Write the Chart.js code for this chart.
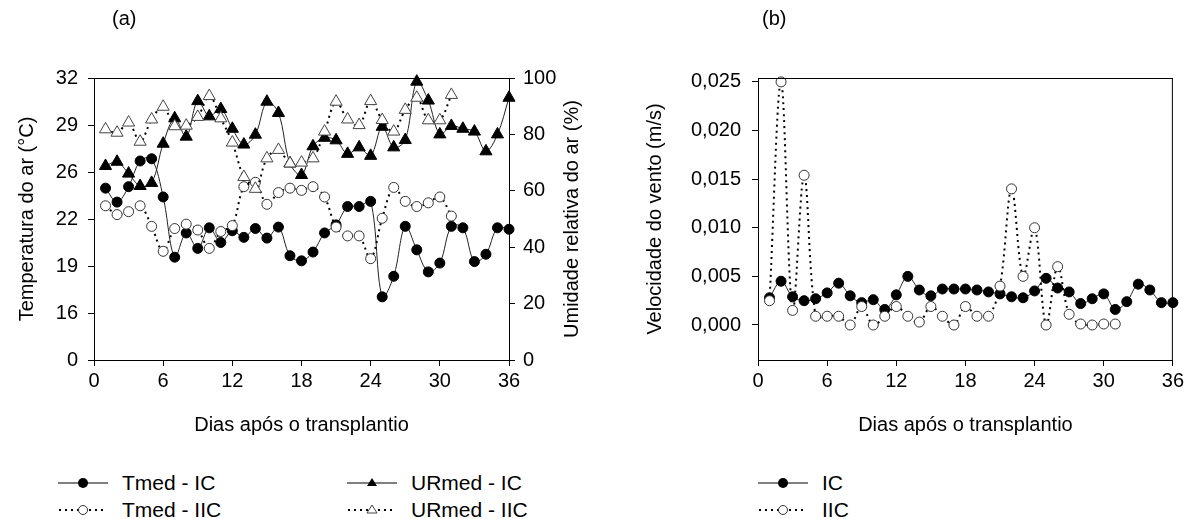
<!DOCTYPE html>
<html><head><meta charset="utf-8">
<script src="https://cdn.jsdelivr.net/npm/chart.js@4/dist/chart.umd.min.js"></script>
<style>
html,body{margin:0;padding:0;background:#fff;width:1187px;height:519px;overflow:hidden;font-family:"Liberation Sans",Arial,sans-serif;color:#000}
#wa{position:absolute;left:0;top:0;width:600px;height:460px}
#wb{position:absolute;left:600px;top:0;width:587px;height:460px}
.plabel{position:absolute;font-size:20px;line-height:20px}
.leg{position:absolute;font-size:21px;line-height:24px;display:flex;align-items:center;white-space:nowrap}
.leg svg{margin-right:14px}
</style></head>
<body>
<div id="wa"><canvas id="ca"></canvas></div>
<div id="wb"><canvas id="cb"></canvas></div>
<div class="plabel" style="left:112px;top:8px">(a)</div>
<div class="plabel" style="left:762px;top:8px">(b)</div>
<div id="legends"></div>
<script>
// ---------- data ----------
const daysIC  = [1,2,3,4,5,6,7,8,9,10,11,12,13,14,15,16,17,18,19,20,21,22,23,24,25,26,27,28,29,30,31,32,33,34,35,36];
const daysIIC = [1,2,3,4,5,6,7,8,9,10,11,12,13,14,15,16,17,18,19,20,21,22,23,24,25,26,27,28,29,30,31];

const tmedIC  = [24.5,23.55,24.6,26.35,26.5,23.9,19.8,21.45,20.4,21.8,20.8,21.6,21.15,21.75,21.1,21.85,19.9,19.55,20.15,21.45,22.0,23.25,23.25,23.6,17.1,18.5,21.9,20.3,18.8,19.4,21.9,21.8,19.5,20.0,21.8,21.7];
const tmedIIC = [23.3,22.7,22.9,23.3,21.9,20.2,21.75,22.05,21.65,20.4,21.55,21.95,24.6,24.9,23.4,24.2,24.5,24.35,24.6,23.9,21.85,21.25,21.25,19.7,22.45,24.55,23.6,23.25,23.5,23.9,22.6];
const urIC    = [68.8,70.3,66.1,61.7,62.8,76.7,85.7,79.2,91.8,86.4,89.0,82.0,76.4,79.9,91.6,87.6,69.7,65.6,75.8,78.8,77.9,73.1,75.4,72.4,82.7,75.4,78.0,98.7,92.0,80.0,83.0,82.0,81.0,74.0,80.0,93.0];
const urIIC   = [81.8,80.6,84.2,77.4,85.3,89.8,82.9,83.1,86.2,93.6,85.7,77.1,64.9,60.7,71.5,74.5,69.7,70.0,71.5,81.0,91.6,85.3,83.3,91.8,85.1,81.0,88.7,93.0,85.0,85.0,94.0];

const windIC  = [0.0028,0.0045,0.0029,0.0025,0.0027,0.0033,0.0043,0.0030,0.0023,0.0026,0.0016,0.0031,0.0050,0.0036,0.0030,0.0037,0.0037,0.0037,0.0036,0.0034,0.0032,0.0029,0.0028,0.0035,0.0048,0.0038,0.0034,0.0022,0.0027,0.0032,0.0016,0.0024,0.0042,0.0036,0.0023,0.0023];
const windIIC = [0.0025,0.0250,0.0015,0.0154,0.0009,0.0009,0.0009,0.0000,0.0019,0.0000,0.0009,0.0019,0.0009,0.0003,0.0019,0.0009,0.0000,0.0019,0.0009,0.0009,0.0040,0.0140,0.0050,0.0100,0.0000,0.0060,0.0011,0.0001,0.0000,0.0001,0.0001];

const xTickValues     = [0,6,12,18,24,30,36];
const tempTickValues  = [12.8,16,19.2,22.4,25.6,28.8,32];
const tempTickLabels  = ['0','16','19','22','26','29','32'];
const humTickValues   = [0,20,40,60,80,100];
const windTickValues  = [0,0.005,0.010,0.015,0.020,0.025];
const windTickLabels  = ['0,000','0,005','0,010','0,015','0,020','0,025'];

const seriesNamesA = ['Tmed - IC','Tmed - IIC','URmed - IC','URmed - IIC'];
const seriesNamesB = ['IC','IIC'];
const xTitle = 'Dias após o transplantio';

// ---------- helpers ----------
const FONT = {family:'"Liberation Sans", Arial, sans-serif', size:20};
const pairs = (xs, ys) => ys.map((y,i)=>({x:xs[i], y}));
const fixedTicks = (vals) => (axis) => { axis.ticks = vals.map(v=>({value:v})); };

function xScale(){
  return {type:'linear', min:0, max:36,
    afterBuildTicks: fixedTicks(xTickValues),
    afterFit: s=>{ s.height = 100; },
    ticks:{font:FONT, color:'#000', padding:3, maxRotation:0},
    grid:{drawOnChartArea:false, drawTicks:true, tickLength:6, color:'#000', tickWidth:1},
    border:{color:'#000', width:1},
    title:{display:true, text:xTitle, font:FONT, color:'#000', padding:{top:0,bottom:23}}};
}

const frame = {
  id:'frame',
  afterDraw(chart, args, opts){
    const {ctx, chartArea:a} = chart;
    ctx.save(); ctx.strokeStyle='#000'; ctx.lineWidth=1; ctx.beginPath();
    ctx.moveTo(a.left, a.top+0.5); ctx.lineTo(a.right, a.top+0.5);
    if (opts.right){ ctx.moveTo(a.right-0.5, a.top); ctx.lineTo(a.right-0.5, a.bottom); }
    ctx.stroke();
    if (opts.rightTitle){
      ctx.fillStyle='#000'; ctx.font = '20px "Liberation Sans", Arial, sans-serif';
      ctx.textAlign='center'; ctx.textBaseline='middle';
      ctx.translate(opts.rightTitleX, (a.top+a.bottom)/2); ctx.rotate(-Math.PI/2);
      ctx.fillText(opts.rightTitle, 0, 0);
    }
    ctx.restore();
  }
};

const filledCircle = {pointStyle:'circle', pointRadius:5, pointBackgroundColor:'#000', pointBorderColor:'#000', pointBorderWidth:1, borderColor:'#222', borderWidth:1, tension:0.35, showLine:true, clip:10};
const openCircle   = {pointStyle:'circle', pointRadius:5, pointBackgroundColor:'#fff', pointBorderColor:'#333', pointBorderWidth:1, borderColor:'#000', borderWidth:2, borderDash:[2,4], tension:0.35, showLine:true, clip:10};
const filledTri    = {pointStyle:'triangle', pointRadius:7, pointBackgroundColor:'#000', pointBorderColor:'#000', pointBorderWidth:1, borderColor:'#222', borderWidth:1, tension:0.35, showLine:true, clip:10};
const openTri      = {pointStyle:'triangle', pointRadius:7, pointBackgroundColor:'#fff', pointBorderColor:'#444', pointBorderWidth:1, borderColor:'#000', borderWidth:2, borderDash:[2,4], tension:0.35, showLine:true, clip:10};

// ---------- chart (a) ----------
new Chart(document.getElementById('ca'), {
  type:'scatter',
  data:{datasets:[
    Object.assign({label:seriesNamesA[0], data:pairs(daysIC, tmedIC),  yAxisID:'y',  order:3}, filledCircle),
    Object.assign({label:seriesNamesA[1], data:pairs(daysIIC, tmedIIC), yAxisID:'y',  order:1}, openCircle),
    Object.assign({label:seriesNamesA[2], data:pairs(daysIC, urIC),    yAxisID:'y2', order:2}, filledTri),
    Object.assign({label:seriesNamesA[3], data:pairs(daysIIC, urIIC),  yAxisID:'y2', order:0}, openTri)
  ]},
  options:{
    responsive:true, maintainAspectRatio:false, animation:false, devicePixelRatio:1,
    layout:{padding:{top:78,left:0,right:0,bottom:0}},
    plugins:{legend:{display:false}, tooltip:{enabled:false}, frame:{right:false, rightTitle:'Umidade relativa do ar (%)', rightTitleX:572}},
    scales:{
      x:xScale(),
      y:{position:'left', min:12.8, max:32,
        afterBuildTicks: fixedTicks(tempTickValues),
        afterFit: s=>{ s.width = 94; },
        ticks:{font:FONT, color:'#000', padding:10, callback:(v,i)=>tempTickLabels[i]},
        grid:{drawOnChartArea:false, drawTicks:true, tickLength:6, color:'#000'},
        border:{color:'#000', width:1},
        title:{display:true, text:'Temperatura do ar (°C)', font:FONT, color:'#000', padding:{top:15,bottom:0}}},
      y2:{position:'right', min:0, max:100,
        afterBuildTicks: fixedTicks(humTickValues),
        afterFit: s=>{ s.width = 91; },
        ticks:{font:FONT, color:'#000', padding:8},
        grid:{drawOnChartArea:false, drawTicks:true, tickLength:6, color:'#000'},
        border:{color:'#000', width:1}}
    }
  },
  plugins:[frame]
});

// ---------- chart (b) ----------
new Chart(document.getElementById('cb'), {
  type:'scatter',
  data:{datasets:[
    Object.assign({label:seriesNamesB[0], data:pairs(daysIC, windIC),  order:1}, filledCircle),
    Object.assign({label:seriesNamesB[1], data:pairs(daysIIC, windIIC), order:0}, openCircle)
  ]},
  options:{
    responsive:true, maintainAspectRatio:false, animation:false, devicePixelRatio:1,
    layout:{padding:{top:78,left:0,right:14,bottom:0}},
    plugins:{legend:{display:false}, tooltip:{enabled:false}, frame:{right:true}},
    scales:{
      x:xScale(),
      y:{position:'left', min:-0.0036, max:0.0254,
        afterBuildTicks: fixedTicks(windTickValues),
        afterFit: s=>{ s.width = 158; },
        ticks:{font:FONT, color:'#000', padding:11, callback:(v,i)=>windTickLabels[i]},
        grid:{drawOnChartArea:false, drawTicks:true, tickLength:6, color:'#000'},
        border:{color:'#000', width:1},
        title:{display:true, text:'Velocidade do vento (m/s)', font:FONT, color:'#000', padding:{top:43,bottom:0}}}
    }
  },
  plugins:[frame]
});

// ---------- legends (HTML) ----------
function sym(kind){
  const dotted = kind.startsWith('open');
  const line = dotted
    ? '<line x1="1" y1="8" x2="49" y2="8" stroke="#000" stroke-width="2" stroke-dasharray="2,4"/>'
    : '<line x1="0" y1="8" x2="50" y2="8" stroke="#000" stroke-width="1"/>';
  let m = '';
  if (kind==='filledCircle') m = '<circle cx="25" cy="8" r="5" fill="#000"/>';
  if (kind==='openCircle')   m = '<circle cx="25" cy="8" r="4.5" fill="#fff" stroke="#333"/>';
  if (kind==='filledTri')    m = '<polygon points="25,3 30,11 20,11" fill="#000"/>';
  if (kind==='openTri')      m = '<polygon points="25,3 30,11 20,11" fill="#fff" stroke="#444"/>';
  return '<svg width="50" height="16">'+line+m+'</svg>';
}
const legItems = [
  {name:seriesNamesA[0], kind:'filledCircle', x:58,  y:471},
  {name:seriesNamesA[1], kind:'openCircle',   x:58,  y:498},
  {name:seriesNamesA[2], kind:'filledTri',    x:347, y:471},
  {name:seriesNamesA[3], kind:'openTri',      x:347, y:498},
  {name:seriesNamesB[0], kind:'filledCircle', x:758, y:471},
  {name:seriesNamesB[1], kind:'openCircle',   x:758, y:498}
];
document.getElementById('legends').innerHTML = legItems.map(it =>
  '<div class="leg" style="left:'+it.x+'px;top:'+it.y+'px">'+sym(it.kind)+'<span>'+it.name+'</span></div>').join('');
</script>
</body></html>
